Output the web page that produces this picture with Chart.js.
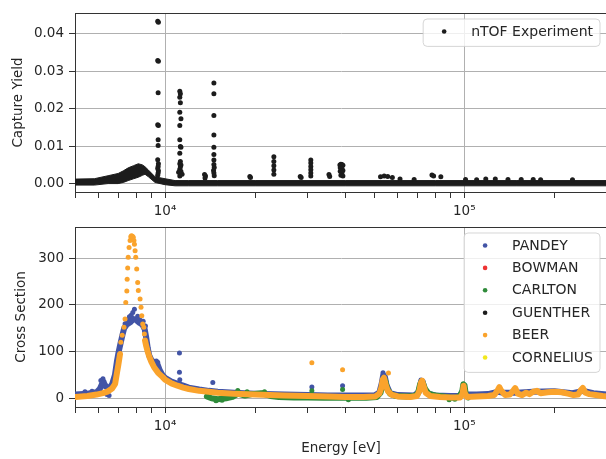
<!DOCTYPE html>
<html>
<head>
<meta charset="utf-8">
<script src="https://cdn.jsdelivr.net/npm/chart.js@4.4.0/dist/chart.umd.min.js"></script>
<style>
  html, body { margin: 0; padding: 0; background: #fff; overflow: hidden; }
  #wrap { position: relative; width: 606px; height: 459px; overflow: hidden; }
  canvas { position: absolute; left: 0; }
  #top { top: 0; }
  #bottom { top: 222px; }
</style>
</head>
<body>
<div id="wrap">
  <canvas id="top" width="611" height="222"></canvas>
  <canvas id="bottom" width="611" height="237"></canvas>
</div>
<script>
// ---- axes ----
const xTickValues = [5000, 6000, 7000, 8000, 9000, 10000, 20000, 30000, 40000, 50000, 60000, 70000, 80000, 90000, 100000, 200000];
const xMajorValues = [10000, 100000];
const xMajorLabels = ['10⁴', '10⁵'];
const yieldTicks = [0, 0.01, 0.02, 0.03, 0.04];
const crossTicks = [0, 100, 200, 300];

// ---- top panel: nTOF capture yield ----
// dense continuum, read as lower / upper edge of the black band
const ntofBandE  = [5000, 5800, 6450, 6970, 7250, 7530, 7850, 8140, 8400, 8570, 8800, 9260, 10000, 10800, 12000, 15000, 20000, 40000, 80000, 150000, 300000];
const ntofBandLo = [-0.0004, -0.0004, 0.0000, 0.0000, 0.0003, 0.0008, 0.0013, 0.0017, 0.0022, 0.0025, 0.0018, 0.0003, -0.0003, -0.0006, -0.0006, -0.0006, -0.0006, -0.0006, -0.0006, -0.0006, -0.0006];
const ntofBandHi = [0.0012, 0.0013, 0.0021, 0.0027, 0.0034, 0.0042, 0.0048, 0.0053, 0.0050, 0.0045, 0.0036, 0.0018, 0.0013, 0.0008, 0.0008, 0.0008, 0.0008, 0.0008, 0.0008, 0.0008, 0.0008];
// resonance points standing above the band
const ntofE = [
  9450, 9500, 9450, 9500, 9480, 9450, 9500, 9480, 9480, 9450, 9500, 9480, 9450, 9500, 9480, 9450,
  11200, 11250, 11200, 11250, 11200, 11300, 11200, 11200, 11250, 11300, 11200, 11250, 11200, 11300, 11250, 11200, 11300, 11250, 11200, 11100, 11400,
  13550, 13650, 13600,
  14560, 14560, 14560, 14560, 14560, 14560, 14560, 14560, 14600, 14520, 14560, 14600,
  19200, 19300,
  23100, 23100, 23100, 23100, 23100,
  28300, 28500,
  30700, 30700, 30700, 30700, 30700, 30700,
  35300, 35500,
  38400, 38700, 39000, 39300, 38500, 39000, 39300, 38500, 39000, 38700, 39300,
  52500, 54000, 55500, 57500, 61000, 68000, 78000, 79000, 83500, 101000, 110000, 118000, 127000, 140000, 155000, 170000, 180000, 230000
];
const ntofY = [
  0.0434, 0.0431, 0.0329, 0.0327, 0.0243, 0.0157, 0.0155, 0.0117, 0.0102, 0.0064, 0.0053, 0.0046, 0.0040, 0.0034, 0.0028, 0.0022,
  0.0247, 0.0240, 0.0231, 0.0216, 0.0191, 0.0173, 0.0155, 0.0117, 0.0099, 0.0097, 0.0081, 0.0059, 0.0053, 0.0050, 0.0044, 0.0038, 0.0032, 0.0026, 0.0020, 0.0030, 0.0025,
  0.0024, 0.0020, 0.0015,
  0.0269, 0.0240, 0.0182, 0.0130, 0.0097, 0.0078, 0.0063, 0.0051, 0.0043, 0.0035, 0.0028, 0.0021,
  0.0019, 0.0016,
  0.0072, 0.0059, 0.0048, 0.0036, 0.0025,
  0.0019, 0.0016,
  0.0063, 0.0055, 0.0046, 0.0037, 0.0028, 0.0020,
  0.0024, 0.0019,
  0.0050, 0.0052, 0.0051, 0.0049, 0.0042, 0.0040, 0.0035, 0.0033, 0.0028, 0.0022, 0.0020,
  0.0018, 0.0020, 0.0019, 0.0016, 0.0012, 0.0011, 0.0023, 0.0020, 0.0018, 0.0011, 0.0010, 0.0012, 0.0012, 0.0011, 0.0011, 0.0011, 0.0010, 0.0010
];

// ---- bottom panel: cross sections ----
const pandeyLineE = [5000, 5500, 5900, 6050, 6150, 6250, 6350, 6500, 6650, 6800, 6900, 7000, 7100, 7200, 7300, 7450, 7650, 7850, 8000, 8200, 8400, 8550, 8650, 8750, 8850, 9000, 9250, 9450, 9600, 9800, 10000, 10500, 11000, 11500, 12000, 13000, 14000, 15000, 17000, 20000, 25000, 30000, 35000, 40000, 45000, 50000, 52000, 53000, 53600, 54300, 55000, 56500, 60000, 68000, 70500, 71800, 72600, 73500, 75500, 80000, 90000, 97000, 99500, 101000, 110000, 120000, 130000, 135000, 150000, 170000, 200000, 230000, 250000, 270000, 300000];
const pandeyLineY = [8, 10, 13, 20, 30, 32, 25, 22, 30, 50, 78, 100, 118, 135, 150, 158, 163, 170, 168, 162, 158, 148, 130, 108, 92, 82, 75, 72, 60, 50, 44, 36, 31, 27, 23, 19, 16, 14, 12, 10, 8, 7, 6, 6, 6, 6, 12, 32, 50, 46, 28, 11, 7, 6, 14, 38, 36, 22, 10, 6, 5, 5, 20, 8, 8, 9, 14, 12, 12, 14, 15, 11, 16, 11, 8];
const pandeyE = [5400, 5700, 6100, 6200, 6250, 6150, 6400, 6500, 7350, 7450, 7600, 7700, 7800, 7900, 8100, 8250, 8450, 8600, 9350, 9450, 11170, 11170, 11200, 14440, 30950, 39200, 53500];
const pandeyY = [14, 15, 38, 42, 36, 26, 8, 6, 160, 168, 175, 178, 184, 191, 176, 168, 165, 155, 80, 77, 97, 56, 40, 34, 24, 27, 55];

const bowmanE = [];
const bowmanY = [];

const carltonLineE = [13800, 14300, 15000, 16000, 16800, 17500, 18500, 19500, 21000, 22500, 24000, 27000, 30000, 34000, 38000, 42000, 47000, 51000, 52500, 53300, 53800, 54400, 55300, 56500, 59000, 64000, 68000, 70000, 71200, 72000, 72800, 74000, 76000, 80000, 85000, 92000, 96000, 98500, 99300, 100200, 101200, 103000];
const carltonLineY = [4, 0, -2, 0, 3, 10, 6, 9, 11, 5, 3, 2, 2, 1, 2, 1, 1, 3, 12, 30, 42, 38, 20, 10, 5, 4, 5, 10, 30, 36, 32, 20, 10, 6, 4, 1, 3, 15, 30, 28, 8, 2];
const carltonE = [17500, 18800, 21500, 30950, 39200, 14800, 15500, 41000, 89000, 93000];
const carltonY = [17, 14, 14, 16, 19, -5, -4, -3, -3, -2];

const guentherE = [];
const guentherY = [];

// null marks the sparse top of the big resonance (drawn as single points)
const beerLineE = [5000, 5500, 5900, 6200, 6450, 6650, 6810, 6895, 6985, 7070, 7700, 8570, 8650, 8750, 8850, 9000, 9200, 9500, 9800, 10000, 10500, 11000, 11500, 12000, 13000, 14000, 15000, 17000, 20000, 25000, 30000, 35000, 40000, 46000, 50500, 52000, 52800, 53400, 53900, 54600, 55500, 57000, 60000, 66000, 69500, 70800, 71700, 72300, 73000, 74300, 77000, 83000, 90000, 97000, 98800, 99500, 100300, 102000, 110000, 120000, 126000, 129000, 131000, 133000, 137000, 142000, 146000, 148000, 151000, 156000, 161000, 165000, 170000, 175000, 180000, 190000, 200000, 212000, 222000, 232000, 240000, 245000, 249000, 254000, 262000, 275000, 290000, 300000];
const beerLineY = [3, 5, 8, 11, 15, 21, 31, 52, 73, 95, null, 124, 112, 100, 90, 78, 66, 54, 46, 40, 32, 27, 23, 20, 16, 14, 12, 10, 8, 6, 5, 4, 3, 3, 4, 10, 22, 40, 44, 30, 16, 8, 4, 3, 5, 16, 34, 38, 28, 12, 5, 3, 2, 2, 10, 27, 12, 3, 4, 5, 7, 16, 24, 16, 7, 8, 17, 22, 10, 7, 12, 9, 14, 16, 11, 13, 14, 13, 10, 7, 8, 17, 22, 12, 9, 7, 5, 4];
const beerE = [7115, 7190, 7290, 7350, 7390, 7450, 7470, 7500, 7530, 7580, 7640, 7680, 7720, 7780, 7830, 7870, 7900, 7940, 7980, 8040, 8100, 8140, 8250, 8310, 8360, 8420, 8490, 8530, 30950, 39200, 55800];
const beerY = [120, 135, 152, 170, 205, 230, 255, 279, 302, 323, 338, 346, 348, 347, 345, 338, 330, 316, 302, 277, 248, 231, 213, 195, 177, 159, 152, 138, 76, 61, 54];

const corneliusE = [];
const corneliusY = [];

// ---- helpers ----
Chart.defaults.font.family = '"DejaVu Sans", sans-serif';
Chart.defaults.font.size = 13.5;
Chart.defaults.color = '#262626';
Chart.defaults.animation = false;
Chart.defaults.plugins.legend.display = false;
Chart.defaults.plugins.tooltip.enabled = false;

function pts(xs, ys) { return xs.map((x, i) => ({x: x, y: ys[i]})); }

function dots(label, xs, ys, color, order) {
  return { label: label, inLegend: true, data: pts(xs, ys), showLine: false,
    pointRadius: 2.5, pointBorderWidth: 0, pointBackgroundColor: color, backgroundColor: color,
    borderColor: color, order: order };
}
function band(xs, ys, color, order) {
  return { label: '', data: pts(xs, ys), showLine: true, spanGaps: false, pointRadius: 0,
    borderWidth: 6, borderColor: color, borderJoinStyle: 'round', borderCapStyle: 'round',
    tension: 0, order: order };
}

function xAxis(height, title) {
  return {
    type: 'logarithmic', min: 5000, max: 300000, bounds: 'data',
    afterBuildTicks: s => { s.ticks = xTickValues.map(v => ({value: v})); },
    afterFit: s => { s.height = height; s.paddingLeft = 0; s.paddingRight = 0; },
    ticks: { autoSkip: false, maxRotation: 0, padding: 5,
      callback: v => { const i = xMajorValues.indexOf(v); return i < 0 ? '' : xMajorLabels[i]; } },
    grid: {
      color: c => (c.tick && xMajorValues.includes(c.tick.value)) ? '#b0b0b0' : 'rgba(0,0,0,0)',
      tickColor: '#333', tickLength: 6, lineWidth: 1
    },
    border: { color: '#333', width: 1 },
    title: { display: !!title, text: title || '', padding: {top: 0, bottom: 2} }
  };
}
function yAxis(min, max, ticks, fmt, title, titlePad) {
  return {
    min: min, max: max, bounds: 'data',
    afterBuildTicks: s => { s.ticks = ticks.map(v => ({value: v})); },
    afterFit: s => { s.width = 75; s.paddingTop = 0; s.paddingBottom = 0; },
    ticks: { padding: 5, callback: fmt },
    grid: { color: '#b0b0b0', tickColor: '#333', tickLength: 6, lineWidth: 1 },
    border: { color: '#333', width: 1 },
    title: { display: true, text: title, padding: {top: titlePad, bottom: 0} }
  };
}

// top spine + legend box (matplotlib style)
const frameAndLegend = {
  id: 'frameAndLegend',
  afterDraw(chart) {
    const ctx = chart.ctx, a = chart.chartArea;
    ctx.save();
    ctx.strokeStyle = '#333';
    ctx.lineWidth = 1;
    ctx.beginPath();
    ctx.moveTo(a.left, a.top + 0.5); ctx.lineTo(a.right, a.top + 0.5);
    ctx.moveTo(a.right - 0.5, a.top); ctx.lineTo(a.right - 0.5, a.bottom);
    ctx.stroke();

    const items = chart.data.datasets.filter(d => d.inLegend);
    ctx.font = '14px "DejaVu Sans", sans-serif';
    const textW = Math.max(...items.map(d => ctx.measureText(d.label).width));
    const rowH = 22.4;
    const w = textW + 55, h = items.length * rowH + 5;
    const x = a.right - 7 - w, y = a.top + 6;
    const r = 4;
    ctx.beginPath();
    ctx.moveTo(x + r, y);
    ctx.arcTo(x + w, y, x + w, y + h, r);
    ctx.arcTo(x + w, y + h, x, y + h, r);
    ctx.arcTo(x, y + h, x, y, r);
    ctx.arcTo(x, y, x + w, y, r);
    ctx.closePath();
    ctx.fillStyle = 'rgba(255,255,255,0.8)';
    ctx.fill();
    ctx.strokeStyle = 'rgba(204,204,204,0.8)';
    ctx.stroke();
    ctx.textBaseline = 'middle';
    ctx.textAlign = 'left';
    items.forEach((d, i) => {
      const cy = y + 12.5 + i * rowH;
      ctx.fillStyle = d.backgroundColor;
      ctx.beginPath();
      ctx.arc(x + 21, cy, 2.3, 0, Math.PI * 2);
      ctx.fill();
      ctx.fillStyle = '#262626';
      ctx.fillText(d.label, x + 48, cy + 0.5);
    });
    ctx.restore();
  }
};

// ---- top chart ----
new Chart(document.getElementById('top'), {
  type: 'scatter',
  data: {
    datasets: [
      { label: '', data: pts(ntofBandE, ntofBandLo), showLine: true, pointRadius: 0, borderWidth: 1,
        borderColor: '#1c1c1c', fill: false, order: 2 },
      { label: '', data: pts(ntofBandE, ntofBandHi), showLine: true, pointRadius: 0, borderWidth: 1,
        borderColor: '#1c1c1c', backgroundColor: '#1c1c1c', fill: '-1', order: 1 },
      dots('nTOF Experiment', ntofE, ntofY, '#1c1c1c', 0)
    ]
  },
  options: {
    responsive: false,
    layout: { padding: { top: 13, right: 1, left: 0, bottom: 0 } },
    scales: {
      x: xAxis(30, ''),
      y: yAxis(-0.00225, 0.0456, yieldTicks, v => v.toFixed(2), 'Capture Yield', 10)
    }
  },
  plugins: [frameAndLegend]
});

// ---- bottom chart ----
const cPandey = '#4254a6', cBowman = '#ee3333', cCarlton = '#2f8b3a', cGuenther = '#1c1c1c', cBeer = '#faa32c', cCornelius = '#f2e81d';
new Chart(document.getElementById('bottom'), {
  type: 'scatter',
  data: {
    datasets: [
      dots('PANDEY', pandeyE, pandeyY, cPandey, 21),
      band(pandeyLineE, pandeyLineY, cPandey, 20),
      dots('BOWMAN', bowmanE, bowmanY, cBowman, 15),
      dots('CARLTON', carltonE, carltonY, cCarlton, 11),
      band(carltonLineE, carltonLineY, cCarlton, 10),
      dots('GUENTHER', guentherE, guentherY, cGuenther, 8),
      dots('BEER', beerE, beerY, cBeer, 1),
      band(beerLineE, beerLineY, cBeer, 2),
      dots('CORNELIUS', corneliusE, corneliusY, cCornelius, 0)
    ]
  },
  options: {
    responsive: false,
    layout: { padding: { top: 5, right: 1, left: 0, bottom: 0 } },
    scales: {
      x: xAxis(52, 'Energy [eV]'),
      y: yAxis(-18.6, 367, crossTicks, v => String(v), 'Cross Section', 13)
    }
  },
  plugins: [frameAndLegend]
});
</script>
</body>
</html>
